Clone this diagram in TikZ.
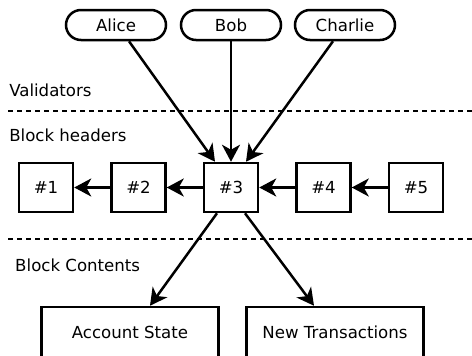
\documentclass[tikz,border=0pt]{standalone}
\usepackage{fontspec}
\setmainfont{DejaVu Sans}
\usepackage{tikz}
\usetikzlibrary{positioning,arrows.meta}

\tikzset{
  validator/.style={draw, rounded corners=15pt, minimum width=100pt, minimum height=30pt},
  block/.style={draw, minimum width=54pt, minimum height=49pt},
  content/.style={draw, minimum width=177pt, minimum height=50pt},
  layer/.style={anchor=west, inner sep=0pt},
  sep/.style={dash pattern=on 5pt off 4pt}
}

\begin{document}
\begin{tikzpicture}[x=1pt, y=-1pt, line width=2.5pt, node distance=92.5pt,
  font=\fontsize{16.6}{20}\selectfont,
  >={Stealth[length=17pt,width=18pt,inset=5pt]}]
\useasboundingbox (0,0) rectangle (472,356);
\node[validator] at (116,25) (v1) {Alice};
\node[validator] at (231,25) (v2) {Bob};
\node[validator] at (345,25) (v3) {Charlie};
\node[layer] at (8,90) (lv) {Validators};
\draw[sep] (8,111) -- (472,111);
\node[layer] at (8,135) (lh) {Block headers};
\node[block] at (46,187.5) (b1) {\#1};
\node[block, right of=b1] (b2) {\#2};
\node[block, right of=b2] (b3) {\#3};
\node[block, right of=b3] (b4) {\#4};
\node[block, right of=b4] (b5) {\#5};
\draw[sep] (8,239) -- (472,239);
\node[layer] at (14,265) (lc) {Block Contents};
\node[content] at (130,332) (c1) {Account State};
\node[content] at (335,332) (c2) {New Transactions};
\path[->]
([xshift=13pt]v1.south) edge ([xshift=-16pt]b3.north)
(v2.south) edge (b3.north)
([xshift=-12pt]v3.south) edge ([xshift=15pt]b3.north)
(b2) edge (b1)
(b3) edge (b2)
(b4) edge (b3)
(b5) edge (b4)
([xshift=-14pt]b3.south) edge ([xshift=20pt]c1.north)
([xshift=14pt]b3.south) edge ([xshift=-21pt]c2.north)
;
\end{tikzpicture}
\end{document}
